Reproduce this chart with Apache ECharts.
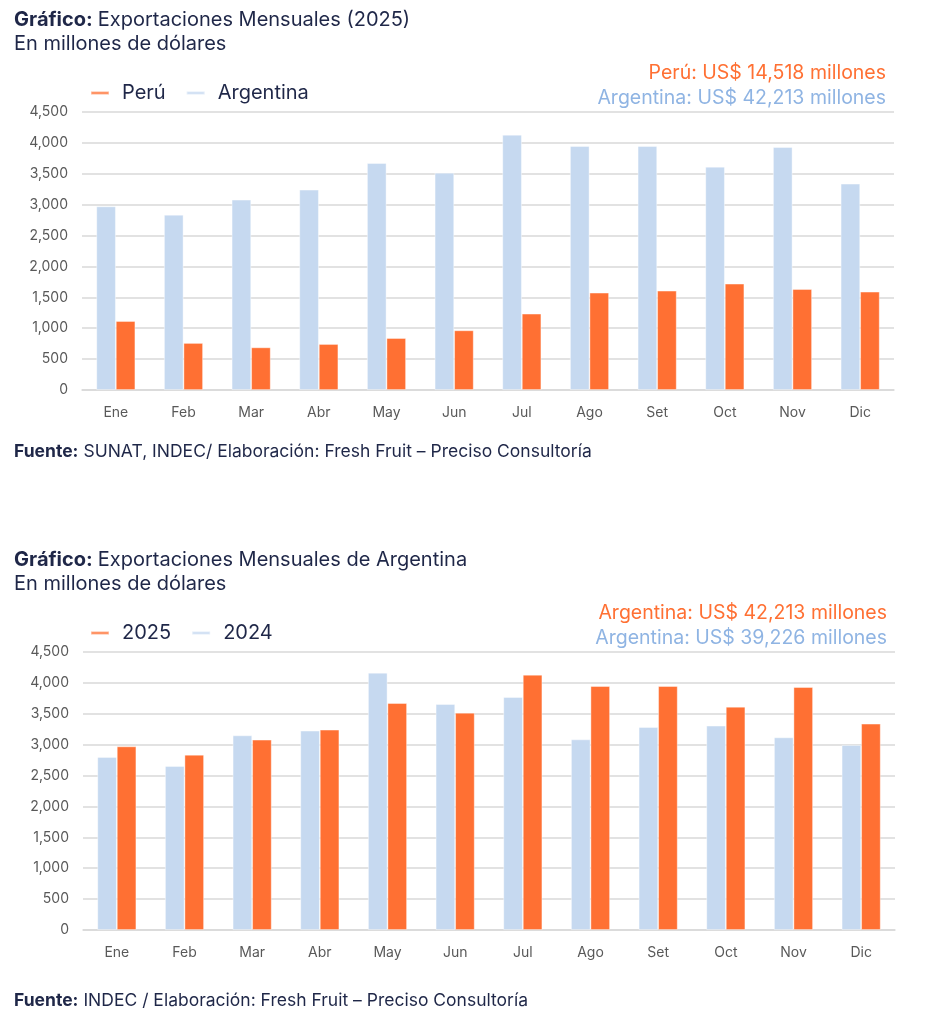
<!DOCTYPE html>
<html>
<head>
<meta charset="utf-8">
<script src="https://cdn.jsdelivr.net/npm/echarts@6/dist/echarts.min.js"></script>
<style>
html,body{margin:0;padding:0;background:#fff;}
#c{width:934px;height:1024px;}
</style>
</head>
<body>
<div id="c"></div>
<script>
const months = ['Ene','Feb','Mar','Abr','May','Jun','Jul','Ago','Set','Oct','Nov','Dic'];
const peru2025 = [1117, 761, 690, 744, 841, 966, 1235, 1575, 1607, 1721, 1634, 1591];
const argentina2025 = [2972, 2837, 3080, 3242, 3673, 3517, 4132, 3948, 3948, 3614, 3932, 3339];
const argentina2024 = [2800, 2654, 3150, 3226, 4164, 3657, 3770, 3085, 3285, 3307, 3118, 2994];
const yTicks = [0, 500, 1000, 1500, 2000, 2500, 3000, 3500, 4000, 4500];

const FONT = 'Inter';
const NAVY = '#1f2748';
const ORANGE = '#ff7033';
const BLUE = '#c6d9f0';
const BLUE_TXT = '#8fb4e3';
const GRID = '#d9d9d9';
const fmt = v => v.toLocaleString('en-US');

const chart = echarts.init(document.getElementById('c'), null, {renderer: 'canvas'});

function xAxis(gi) {
  return {
    type: 'category', gridIndex: gi, data: months,
    axisLine: {show: true, lineStyle: {color: GRID, width: 1.5}},
    axisTick: {show: false},
    axisLabel: {color: '#595959', fontFamily: FONT, fontSize: 14, margin: 16}
  };
}
function yAxis(gi) {
  return {
    type: 'value', gridIndex: gi, min: yTicks[0], max: yTicks[yTicks.length - 1], interval: 500,
    axisLine: {show: false}, axisTick: {show: false},
    splitLine: {lineStyle: {color: GRID, width: 1.5}},
    axisLabel: {color: '#595959', fontFamily: FONT, fontSize: 14, margin: 14, formatter: v => fmt(v)}
  };
}
function bar(name, data, color, gi) {
  return {
    type: 'bar', name: name, data: data, xAxisIndex: gi, yAxisIndex: gi,
    barWidth: 19.5, barGap: '0%',
    itemStyle: {color: color, borderColor: 'rgba(255,255,255,0.5)', borderWidth: 0.8},
    emphasis: {disabled: true}
  };
}
const titleRich = {
  b: {fontFamily: FONT, fontWeight: 'bold', fontSize: 20, color: NAVY, lineHeight: 24},
  n: {fontFamily: FONT, fontWeight: 'normal', fontSize: 20, color: NAVY, lineHeight: 24}
};
const footRich = {
  b: {fontFamily: FONT, fontWeight: 'bold', fontSize: 17.5, color: NAVY},
  n: {fontFamily: FONT, fontWeight: 'normal', fontSize: 17.5, color: NAVY}
};

chart.setOption({
  animation: false,
  title: [
    {left: 9, top: 3, text: '{b|Gráfico:} {n|Exportaciones Mensuales (2025)}\n{n|En millones de dólares}', textStyle: {rich: titleRich, fontWeight: 'normal'}},
    {left: 9, top: 438, text: '{b|Fuente:} {n|SUNAT, INDEC/ Elaboración: Fresh Fruit – Preciso Consultoría}', textStyle: {rich: footRich, fontWeight: 'normal'}},
    {left: 9, top: 543, text: '{b|Gráfico:} {n|Exportaciones Mensuales de Argentina}\n{n|En millones de dólares}', textStyle: {rich: titleRich, fontWeight: 'normal'}},
    {left: 9, top: 987, text: '{b|Fuente:} {n|INDEC / Elaboración: Fresh Fruit – Preciso Consultoría}', textStyle: {rich: footRich, fontWeight: 'normal'}}
  ],
  legend: [
    {left: 85, top: 78, data: ['Perú', 'Argentina'], icon: 'rect', itemWidth: 18, itemHeight: 3, itemGap: 20,
     textStyle: {fontFamily: FONT, fontSize: 20, color: NAVY, padding: [0, 0, 0, 8]}},
    {left: 85, top: 618, data: ['2025', '2024'], icon: 'rect', itemWidth: 18, itemHeight: 3, itemGap: 20,
     textStyle: {fontFamily: FONT, fontSize: 20, color: NAVY, padding: [0, 0, 0, 8]}}
  ],
  graphic: [
    {type: 'text', x: 886, y: 63, style: {text: 'Perú: US$ 14,518 millones', fill: ORANGE, font: '19.5px ' + FONT, textAlign: 'right'}},
    {type: 'text', x: 886, y: 88, style: {text: 'Argentina: US$ 42,213 millones', fill: BLUE_TXT, font: '19.5px ' + FONT, textAlign: 'right'}},
    {type: 'text', x: 887, y: 603, style: {text: 'Argentina: US$ 42,213 millones', fill: ORANGE, font: '19.5px ' + FONT, textAlign: 'right'}},
    {type: 'text', x: 887, y: 628, style: {text: 'Argentina: US$ 39,226 millones', fill: BLUE_TXT, font: '19.5px ' + FONT, textAlign: 'right'}}
  ],
  grid: [
    {left: 82, width: 812, top: 112, height: 278},
    {left: 83, width: 812, top: 652, height: 278}
  ],
  xAxis: [xAxis(0), xAxis(1)],
  yAxis: [yAxis(0), yAxis(1)],
  series: [
    bar('Argentina', argentina2025, BLUE, 0),
    bar('Perú', peru2025, ORANGE, 0),
    bar('2024', argentina2024, BLUE, 1),
    bar('2025', argentina2025, ORANGE, 1)
  ]
});
</script>
</body>
</html>
